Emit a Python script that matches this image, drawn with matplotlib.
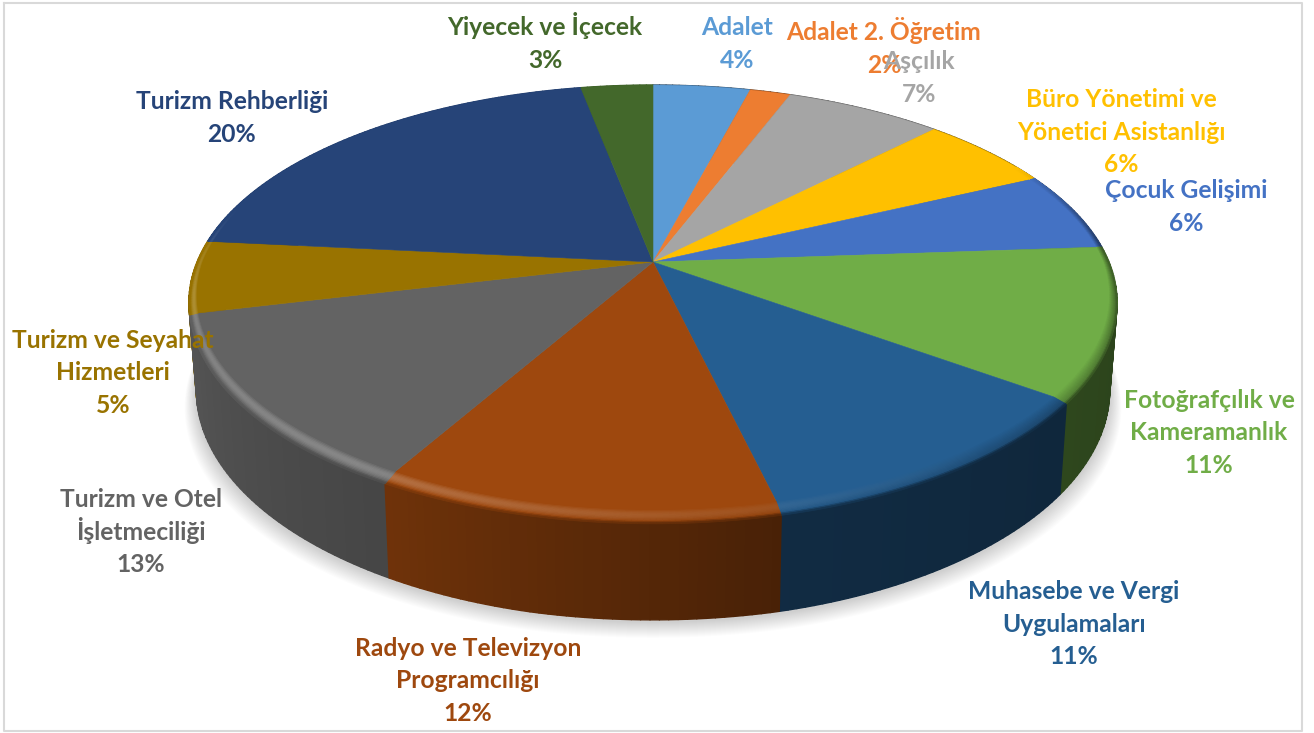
import matplotlib
matplotlib.use("Agg")
import matplotlib.pyplot as plt
from matplotlib.collections import PolyCollection
from matplotlib.colors import to_rgb
import numpy as np

names = ["Adalet", "Adalet 2. Öğretim", "Aşçılık", "Büro Yönetimi ve\nYönetici Asistanlığı",
         "Çocuk Gelişimi", "Fotoğrafçılık ve\nKameramanlık", "Muhasebe ve Vergi\nUygulamaları",
         "Radyo ve Televizyon\nProgramcılığı", "Turizm ve Otel\nİşletmeciliği",
         "Turizm ve Seyahat\nHizmetleri", "Turizm Rehberliği", "Yiyecek ve İçecek"]
shares = [4.05, 1.7, 6.55, 5.65, 5.9, 11.2, 11.25, 11.9, 13.0, 5.4, 20.4, 3.0]
colors = ["#5B9BD5", "#ED7D31", "#A5A5A5", "#FFC000", "#4472C4", "#70AD47",
          "#255E91", "#9E480E", "#636363", "#997300", "#264478", "#43682B"]
label_x = [737, 884, 919, 1121, 1186, 1209, 1074, 468, 141, 113, 232, 545]
label_y = [43, 48, 77, 131, 206, 432, 623, 680, 531, 372, 117, 43]

# pie projection, pixels
cx, cy = 653, 262
R, H, k = 456, 209.9, 0.186


def top_xy(th, r=1.0):
    u, v = r * np.sin(th), r * np.cos(th)
    s = 1 / (1 + k * v)
    return cx + R * u * s, cy - H * v * s


def low_xy(th):
    x, y = top_xy(th)
    depth = np.minimum(100 - (512 - y) * 0.06, 100)
    return cx + (x - cx) * 0.984, y + depth


def wall_shade(th):
    deg = np.degrees(th)
    return np.interp(deg, [90, 126, 167, 209, 256, 280], [0.38, 0.41, 0.46, 0.70, 0.86, 0.9])


def shade(col, f):
    return tuple(np.clip(np.array(to_rgb(col)) * f, 0, 1))


fig = plt.figure(figsize=(13.14, 7.33), dpi=100)
ax = fig.add_axes([0, 0, 1, 1])
ax.set_xlim(0, 1314)
ax.set_ylim(733, 0)
ax.axis("off")

# frame
ax.plot([3.5, 1302, 1302, 3.5, 3.5], [3, 3, 731, 731, 3], color="#D9D9D9", lw=1.5, zorder=1)

# soft shadow under the pie
ring = np.linspace(0, 2 * np.pi, 361)
lx, ly = low_xy(ring)
for i in range(16):
    f = 1 + 0.0016 * (16 - i)
    ax.fill(cx + (lx - cx) * f, ly + 18 - i, color="black", alpha=0.012, lw=0, zorder=2)

edges = np.cumsum([0] + shares) / sum(shares) * 2 * np.pi

# side wall, strips painted back to front, each one runs under the next
strips = []
for a, b, col in zip(edges[:-1], edges[1:], colors):
    th = np.linspace(a, b, max(int((b - a) * 60), 2) + 1)
    for t0, t1 in zip(th[:-1], th[1:]):
        strips.append((t0, t1, col))
strips.sort(key=lambda s: -np.cos((s[0] + s[1]) / 2))
polys, fc = [], []
for t0, t1, col in strips:
    tt = np.array([t0, t1])
    tx, ty = top_xy(tt)
    bx, by = low_xy(tt)
    polys.append([(tx[0], ty[0]), (tx[1], ty[1]), (bx[1], by[1]), (bx[0], by[0])])
    fc.append(shade(col, wall_shade((t0 + t1) / 2)))
ax.add_collection(PolyCollection(polys, facecolors=fc, edgecolors=fc, linewidths=1.0, zorder=3))

# top face
for a, b, col in zip(edges[:-1], edges[1:], colors):
    th = np.linspace(a, b, 80)
    x, y = top_xy(th)
    ax.fill(np.r_[cx, x], np.r_[cy, y], color=col, lw=0.4, zorder=4)

# rim bevel, lit on the left and front, dark on the right
n_band = 12
for a, b, col in zip(edges[:-1], edges[1:], colors):
    th = np.linspace(a, b, max(int((b - a) * 90), 2))
    th = th[(th > np.radians(60)) & (th < np.radians(285))]
    if len(th) < 2:
        continue
    deg = np.degrees(th)
    light = np.interp(deg, [60, 140, 175, 215, 262, 285], [0, 0, 0.10, 0.24, 0.20, 0])
    dark = np.interp(deg, [60, 85, 130, 165, 200], [0.0, 0.5, 0.30, 0.10, 0])
    drop = np.clip(-np.cos(th) * 1.3, 0, 1)
    base = np.array(to_rgb(col))
    for j in range(n_band):
        t0, t1 = j / n_band, (j + 1) / n_band
        x0, y0 = top_xy(th, 1 - (0.012 + 0.022 * drop) * (1 - t0))
        x1, y1 = top_xy(th, 1 - (0.012 + 0.022 * drop) * (1 - t1))
        y0 = y0 + 4 * t0 * drop
        y1 = y1 + 4 * t1 * drop
        bump = np.sin(np.pi * min(t0 * 1.25, 1))
        polys, fc = [], []
        for i in range(len(th) - 1):
            polys.append([(x0[i], y0[i]), (x0[i + 1], y0[i + 1]), (x1[i + 1], y1[i + 1]), (x1[i], y1[i])])
            wall = np.array(shade(col, wall_shade(th[i])))
            mix = base + (wall - base) * max(t0 - 0.75, 0) * 4 * drop[i]
            lit = mix + (1 - mix) * light[i] * bump
            fc.append(tuple(np.clip(lit * (1 - dark[i] * t0), 0, 1)))
        ax.add_collection(PolyCollection(polys, facecolors=fc, edgecolors=fc, linewidths=0.5, zorder=5))

# labels, one text per line so the pitch stays even
pitch = 32.7
for name, share, col, x_, y_ in zip(names, shares, colors, label_x, label_y):
    pct = round(share / sum(shares) * 100)
    lines = name.split("\n") + [f"{pct}%"]
    for i, line in enumerate(lines):
        ax.text(x_, y_ + (i - (len(lines) - 1) / 2) * pitch + 8.5, line, color=col, ha="center", va="baseline",
                fontsize=17.7, fontweight="bold", family="Lato", zorder=6)

fig.savefig("out.png", dpi=100)
